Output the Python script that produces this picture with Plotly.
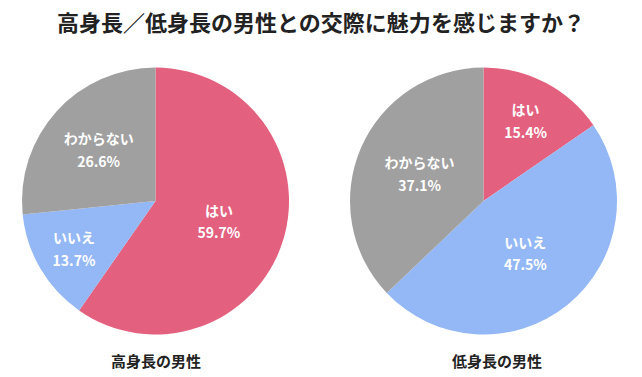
import plotly.graph_objects as go

title = "高身長／低身長の男性との交際に魅力を感じますか？"
categories = ["はい", "いいえ", "わからない"]
tall_values = [59.7, 13.7, 26.6]
short_values = [15.4, 47.5, 37.1]
group_names = ["高身長の男性", "低身長の男性"]
colors = ["#E4607F", "#94B8F5", "#A0A0A0"]

FONT = "Noto Sans CJK JP"
W, H = 642, 377

fig = go.Figure()
domains = [[22 / W, 289 / W], [350 / W, 617 / W]]
ydom = [(H - 335) / H, (H - 67) / H]
tmpl = ("<span style='font-size:14px'><b>%{label}</b></span><br>"
        "<span style='font-size:14px'><b>%{value:.1f}%</b></span>")
for vals, dom in zip([tall_values, short_values], domains):
    fig.add_trace(go.Pie(
        labels=categories, values=vals,
        sort=False, direction="clockwise", rotation=0,
        marker=dict(colors=colors, line=dict(width=0)),
        textposition="inside", insidetextorientation="horizontal",
        texttemplate=tmpl,
        textfont=dict(family=FONT, size=17.5, color="white"),
        domain=dict(x=dom, y=ydom),
        showlegend=False, hoverinfo="skip",
    ))

label_x = [156 / W, 497 / W]
for name, lx in zip(group_names, label_x):
    fig.add_annotation(text=f"<b>{name}</b>", x=lx, y=1 - 360 / H,
                       xref="paper", yref="paper", showarrow=False,
                       xanchor="center", yanchor="middle",
                       font=dict(family=FONT, size=15, color="#222"))

fig.update_layout(
    width=W, height=H,
    margin=dict(l=0, r=0, t=0, b=0),
    paper_bgcolor="white",
    title=dict(text=f"<b>{title}</b>", x=0.5, xanchor="center", y=1 - 23 / H, yanchor="middle",
               font=dict(family=FONT, size=22, color="#222")),
)

fig.write_html("out.html", config={"displayModeBar": False},
               post_script="document.body.style.margin='0px';document.body.style.overflow='hidden';")
